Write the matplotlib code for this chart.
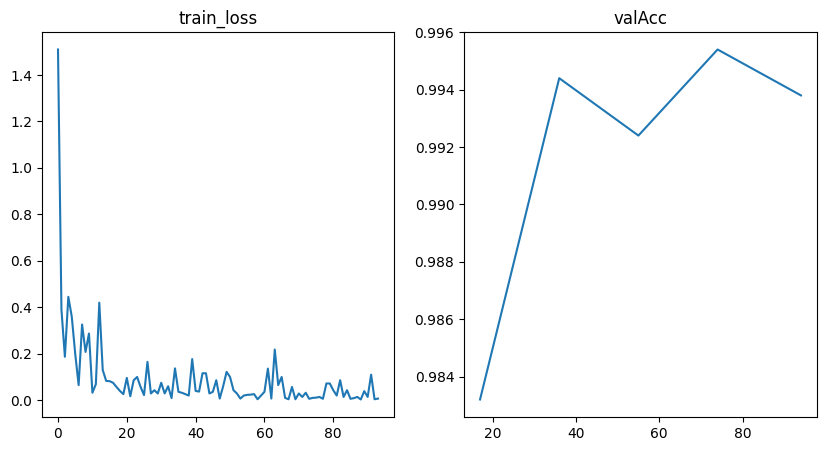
import numpy as np
import matplotlib.pyplot as plt

train_loss = [1.51, 0.39, 0.187, 0.445, 0.36, 0.20, 0.065, 0.326, 0.208, 0.287,
              0.032, 0.069, 0.42, 0.13, 0.083, 0.082, 0.075, 0.057, 0.04, 0.026,
              0.096, 0.017, 0.086, 0.10, 0.057, 0.022, 0.165, 0.029, 0.043, 0.029,
              0.075, 0.029, 0.06, 0.009, 0.137, 0.036, 0.032, 0.026, 0.02, 0.177,
              0.04, 0.037, 0.116, 0.116, 0.029, 0.036, 0.086, 0.007, 0.06, 0.122,
              0.10, 0.043, 0.029, 0.007, 0.02, 0.023, 0.024, 0.026, 0.004, 0.02,
              0.036, 0.136, 0.007, 0.218, 0.065, 0.10, 0.01, 0.004, 0.057, 0.004,
              0.029, 0.014, 0.032, 0.006, 0.01, 0.011, 0.014, 0.006, 0.072, 0.072,
              0.043, 0.02, 0.086, 0.014, 0.043, 0.006, 0.009, 0.014, 0.003, 0.039,
              0.014, 0.11, 0.004, 0.007]
val_steps = [17, 36, 55, 74, 94]
val_acc = [0.9832, 0.9944, 0.9924, 0.9954, 0.9938]

W, H = 826, 451
fig = plt.figure(figsize=(W / 100, H / 100), dpi=100)

ax1 = fig.add_axes([42 / W, 1 - 417 / H, 352 / W, 385 / H])
ax1.plot(np.arange(len(train_loss)), train_loss)
ax1.set_title('train_loss')

ax2 = fig.add_axes([464 / W, 1 - 417 / H, 353 / W, 385 / H])
ax2.plot(val_steps, val_acc)
ax2.set_title('valAcc')

fig.savefig('out.png', dpi=100)
